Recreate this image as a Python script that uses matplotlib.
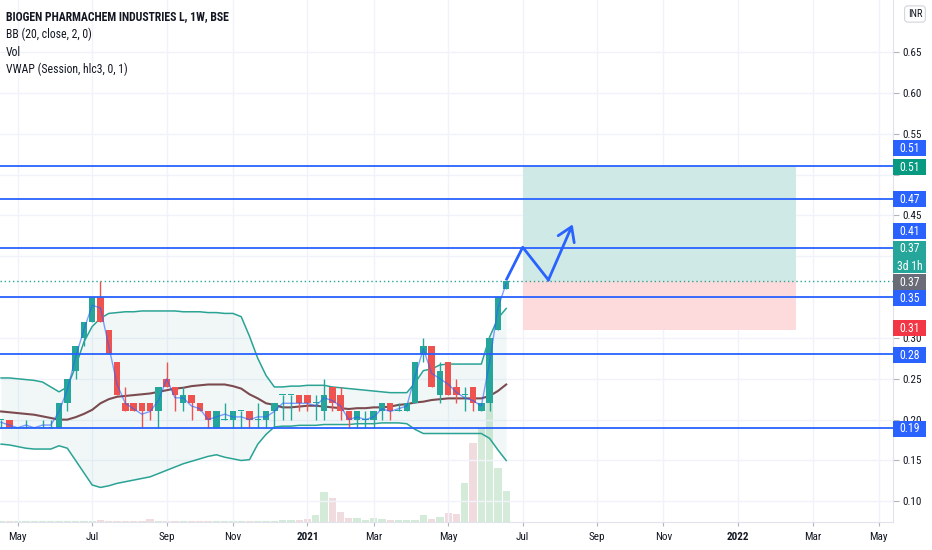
import numpy as np
import pandas as pd
import matplotlib
matplotlib.use('Agg')
import matplotlib.pyplot as plt
from matplotlib import font_manager
from matplotlib.patches import Rectangle, FancyArrowPatch
from matplotlib.transforms import blended_transform_factory

# weekly bars, first one is the week of 2020-04-20
start = '2020-04-20'
opens = [0.20, 0.20, 0.19, 0.19, 0.19, 0.19, 0.19, 0.19, 0.22, 0.26,
         0.30, 0.32, 0.35, 0.31, 0.27, 0.22, 0.22, 0.22, 0.22, 0.21,
         0.25, 0.24, 0.22, 0.23, 0.22, 0.21, 0.19, 0.20, 0.20, 0.21,
         0.21, 0.20, 0.20, 0.21, 0.23, 0.23, 0.23, 0.23, 0.22, 0.21,
         0.24, 0.23, 0.21, 0.20, 0.20, 0.20, 0.21, 0.22, 0.21, 0.21,
         0.22, 0.28, 0.29, 0.23, 0.27, 0.24, 0.23, 0.24, 0.21, 0.22,
         0.31, 0.36]
highs = [0.20, 0.20, 0.19, 0.20, 0.19, 0.20, 0.20, 0.22, 0.25, 0.29,
         0.32, 0.35, 0.37, 0.31, 0.27, 0.24, 0.22, 0.22, 0.22, 0.24,
         0.27, 0.24, 0.24, 0.23, 0.22, 0.21, 0.21, 0.22, 0.21, 0.21,
         0.21, 0.22, 0.21, 0.22, 0.23, 0.23, 0.23, 0.23, 0.23, 0.25,
         0.24, 0.24, 0.21, 0.21, 0.21, 0.21, 0.22, 0.22, 0.22, 0.22,
         0.27, 0.30, 0.29, 0.27, 0.27, 0.25, 0.24, 0.24, 0.22, 0.30,
         0.35, 0.37]
lows = [0.19, 0.19, 0.19, 0.19, 0.19, 0.19, 0.19, 0.19, 0.21, 0.25,
        0.29, 0.32, 0.32, 0.28, 0.23, 0.21, 0.21, 0.19, 0.20, 0.19,
        0.24, 0.21, 0.21, 0.20, 0.21, 0.19, 0.19, 0.20, 0.19, 0.19,
        0.19, 0.19, 0.19, 0.19, 0.20, 0.20, 0.21, 0.21, 0.20, 0.20,
        0.21, 0.20, 0.19, 0.19, 0.19, 0.19, 0.20, 0.20, 0.21, 0.21,
        0.22, 0.27, 0.24, 0.22, 0.23, 0.22, 0.21, 0.21, 0.21, 0.21,
        0.31, 0.36]
closes = [0.20, 0.19, 0.19, 0.19, 0.19, 0.19, 0.19, 0.22, 0.25, 0.29,
          0.32, 0.35, 0.32, 0.28, 0.23, 0.21, 0.21, 0.21, 0.21, 0.24,
          0.24, 0.23, 0.23, 0.22, 0.21, 0.20, 0.21, 0.20, 0.21, 0.21,
          0.20, 0.20, 0.21, 0.22, 0.23, 0.23, 0.22, 0.22, 0.22, 0.23,
          0.22, 0.21, 0.20, 0.21, 0.20, 0.21, 0.22, 0.21, 0.21, 0.22,
          0.27, 0.29, 0.24, 0.26, 0.23, 0.23, 0.23, 0.22, 0.22, 0.30,
          0.35, 0.37]
# volume in thousand shares
volume = [6, 5, 4, 6, 5, 4, 6, 7, 6, 5,
          7, 6, 8, 6, 5, 6, 5, 6, 15, 5,
          6, 5, 6, 5, 4, 6, 5, 6, 5, 7,
          5, 5, 5, 7, 10, 10, 10, 15, 34, 149,
          120, 49, 19, 19, 10, 20, 14, 9, 9, 9,
          9, 34, 14, 24, 45, 40, 194, 390, 465, 600,
          265, 154]
bb_upper = [0.251, 0.251, 0.250, 0.249, 0.248, 0.246, 0.240, 0.234, 0.240, 0.265,
            0.295, 0.314, 0.324, 0.330, 0.331, 0.332, 0.332, 0.333, 0.333, 0.333,
            0.333, 0.333, 0.332, 0.332, 0.332, 0.331, 0.331, 0.330, 0.330, 0.326,
            0.302, 0.275, 0.254, 0.240, 0.240, 0.241, 0.241, 0.242, 0.242, 0.242,
            0.240, 0.239, 0.238, 0.237, 0.236, 0.235, 0.234, 0.233, 0.233, 0.233,
            0.245, 0.260, 0.262, 0.267, 0.268, 0.268, 0.268, 0.268, 0.268, 0.301,
            0.324, 0.336]
bb_basis = [0.210, 0.209, 0.208, 0.207, 0.206, 0.204, 0.202, 0.200, 0.200, 0.203,
            0.207, 0.212, 0.220, 0.225, 0.228, 0.229, 0.230, 0.231, 0.232, 0.234,
            0.236, 0.238, 0.239, 0.241, 0.242, 0.243, 0.243, 0.243, 0.241, 0.238,
            0.231, 0.226, 0.220, 0.218, 0.215, 0.215, 0.216, 0.217, 0.217, 0.216,
            0.215, 0.214, 0.213, 0.214, 0.214, 0.215, 0.215, 0.216, 0.218, 0.219,
            0.221, 0.222, 0.224, 0.225, 0.226, 0.226, 0.226, 0.226, 0.226, 0.229,
            0.235, 0.243]
bb_lower = [0.170, 0.169, 0.167, 0.165, 0.164, 0.164, 0.164, 0.168, 0.165, 0.150,
            0.135, 0.120, 0.117, 0.119, 0.122, 0.124, 0.126, 0.128, 0.130, 0.134,
            0.138, 0.142, 0.146, 0.149, 0.152, 0.155, 0.157, 0.154, 0.152, 0.150,
            0.151, 0.170, 0.182, 0.191, 0.192, 0.192, 0.193, 0.193, 0.193, 0.194,
            0.194, 0.194, 0.194, 0.195, 0.195, 0.195, 0.196, 0.196, 0.196, 0.195,
            0.188, 0.183, 0.183, 0.183, 0.183, 0.183, 0.183, 0.183, 0.183, 0.177,
            0.163, 0.150]

levels = [0.51, 0.47, 0.41, 0.35, 0.28, 0.19]
last_price = 0.37
entry, target, stop = 0.37, 0.51, 0.31
box_start, box_end = '2021-07-05', '2022-02-21'
# hand drawn arrow: bar offsets and prices
path_bars = [61.06, 63.0, 66.1, 69.03]
path_prices = [0.372, 0.411, 0.371, 0.439]

title = 'BIOGEN PHARMACHEM INDUSTRIES L, 1W, BSE'
legend_lines = ['BB (20, close, 2, 0)', 'Vol', 'VWAP (Session, hlc3, 0, 1)']
# right scale labels: text, price where the tag sits, colour
tags = [('0.51', 0.5324, '#2962ff'), ('0.51', 0.509, '#089981'),
        ('0.47', 0.470, '#2962ff'), ('0.41', 0.4306, '#2962ff'),
        ('0.37\n3d 1h', 0.399, '#26a69a'), ('0.37', 0.368, '#6a6d78'),
        ('0.35', 0.3485, '#2962ff'), ('0.31', 0.312, '#f23645'),
        ('0.28', 0.2787, '#2962ff'), ('0.19', 0.189, '#2962ff')]
# scale values that sit fully behind a tag
hidden_ticks = [0.50, 0.40, 0.35]

# pick a narrow font if there is one
names = {f.name for f in font_manager.fontManager.ttflist}
font = 'DejaVu Sans'
for cand in ['Liberation Sans Narrow', 'Roboto Condensed', 'DejaVu Sans Condensed', 'Liberation Sans']:
    if cand in names:
        font = cand
        break
plt.rcParams['font.family'] = [font, 'DejaVu Sans']

UP, DOWN = '#26a69a', '#ef5350'
TXT = '#131722'
GRID = '#f0f3fa'

W, H = 932, 550
plot_right, plot_bottom = 893, 522
fig = plt.figure(figsize=(W / 100, H / 100), dpi=100)
rect = [0, (H - plot_bottom) / H, plot_right / W, plot_bottom / H]
axv = fig.add_axes(rect)
ax = fig.add_axes(rect, sharex=axv)
ax.patch.set_visible(False)

weeks = pd.date_range(start, periods=112, freq='W-MON')
x = np.arange(len(closes))
o, h, l, c = (np.array(a) for a in (opens, highs, lows, closes))
up = c >= o
col = np.where(up, UP, DOWN)

# volume underneath
vcol = np.where(up, '#d4ebd9', '#f0dcdf')
axv.bar(x, volume, width=0.88, color=vcol, linewidth=0)
axv.set_ylim(0, max(volume) * 4.3)
axv.axis('off')

# month ticks: first bar of every other month
months = weeks.month
first = np.r_[False, months[1:] != months[:-1]]
tick_idx = [i for i in range(len(weeks)) if first[i] and months[i] % 2 == 1]
tick_lab = [str(weeks[i].year) if months[i] == 1 else weeks[i].strftime('%b') for i in tick_idx]

for i in tick_idx:
    ax.axvline(i, color=GRID, lw=1, zorder=0)
yt = np.round(np.arange(0.10, 0.651, 0.05), 2)
for v in yt:
    ax.axhline(v, color=GRID, lw=1, zorder=0)

# bollinger bands
ax.fill_between(x, bb_lower, bb_upper, color='#198787', alpha=0.06, lw=0, zorder=1)
ax.plot(x, bb_upper, color='#2aa395', lw=1.1, zorder=2)
ax.plot(x, bb_lower, color='#2aa395', lw=1.1, zorder=2)
ax.plot(x, bb_basis, color='#7b4b50', lw=1.5, zorder=2)

# position tool
b0 = weeks.get_loc(pd.Timestamp(box_start))
b1 = weeks.get_loc(pd.Timestamp(box_end))
ax.add_patch(Rectangle((b0, entry), b1 - b0, target - entry, color='#cfeae6', lw=0, zorder=1))
ax.add_patch(Rectangle((b0, stop), b1 - b0, entry - stop, color='#fddadc', lw=0, zorder=1))

# candles
ax.vlines(x, l, h, colors=col, lw=1, zorder=4)
body = np.maximum(np.abs(c - o), 0.0013)
ax.bar(x, body, bottom=np.minimum(o, c), width=0.78, color=col, linewidth=0, zorder=5)

# vwap (session) on weekly bars
ax.plot(x, (h + l + c) / 3, color='#2962ff', lw=1, alpha=0.6, zorder=6)

ax.axhline(last_price, color=UP, lw=1, ls=(0, (1, 2)), zorder=3)
for lv in levels:
    ax.axhline(lv, color='#2962ff', lw=1.3, zorder=7)

ax.plot(path_bars[:-1], path_prices[:-1], color='#2962ff', lw=2, zorder=8)
ax.add_patch(FancyArrowPatch((path_bars[-2], path_prices[-2]), (path_bars[-1], path_prices[-1]),
                             arrowstyle='->,head_length=0.7,head_width=0.45', mutation_scale=14,
                             color='#2962ff', lw=2, zorder=8, shrinkA=0, shrinkB=0))

ax.set_xlim(-0.133, 107.72)
ax.set_ylim(0.0747, 0.7136)

ax.yaxis.tick_right()
ax.set_yticks(yt)
ax.set_yticklabels(['' if any(abs(v - hv) < 1e-9 for hv in hidden_ticks) else '%.2f' % v for v in yt])
ax.set_xticks(tick_idx)
ax.set_xticklabels(tick_lab)
ax.tick_params(axis='y', length=4, color='#b2b5be', labelsize=8, labelcolor=TXT, pad=3)
ax.tick_params(axis='x', length=3, color='#b2b5be', labelsize=8, labelcolor=TXT, pad=4)
for lab, t in zip(ax.get_xticklabels(), tick_lab):
    if t.isdigit():
        lab.set_fontweight('bold')
for s in ['top', 'left']:
    ax.spines[s].set_visible(False)
for s in ['right', 'bottom']:
    ax.spines[s].set_color('#e0e3eb')

# price scale tags
tr = blended_transform_factory(ax.transAxes, ax.transData)
px = 1.0 / plot_right
py = (0.7136 - 0.0747) / plot_bottom
for text, yc, color in tags:
    hh = (32 if '\n' in text else 16) * py
    ax.add_patch(Rectangle((1.0, yc - hh / 2), 33 * px, hh, transform=tr, color=color,
                           lw=0, clip_on=False, zorder=20))
    ax.text(1.0 + 16.5 * px, yc, text, transform=tr, ha='center', va='center', color='white',
            fontsize=8.5, linespacing=1.5, clip_on=False, zorder=21)

fig.text(915 / W, 1 - 14 / H, 'INR', fontsize=7.5, color=TXT, ha='center', va='center',
         bbox=dict(boxstyle='round,pad=0.3', fc='white', ec='#d1d4dc', lw=0.8))

fig.text(6 / W, 1 - 17 / H, title, fontsize=8.5, fontweight='bold', color=TXT, va='center')
for k, t in enumerate(legend_lines):
    fig.text(6 / W, 1 - (34.5 + 17.6 * k) / H, t, fontsize=8.5, color=TXT, va='center')

fig.savefig('out.png', dpi=100)
